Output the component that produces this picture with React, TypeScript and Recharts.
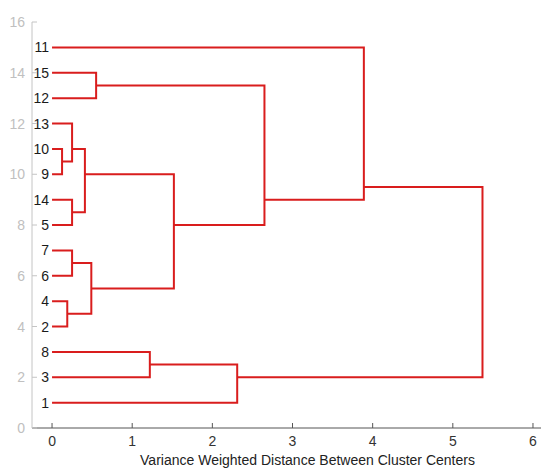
import React from 'react';
import { ComposedChart, Line, Scatter, XAxis, YAxis, Label } from 'recharts';

// leaf order along the y axis (position 1 at the bottom)
const leafLabels = ['1', '3', '8', '2', '4', '6', '7', '5', '14', '9', '10', '13', '12', '15', '11'];

// merges: nodes 1..15 are leaves (by label), new nodes are numbered 16, 17, ...
const mergeLeft = [9, 13, 14, 7, 4, 17, 19, 15, 8, 21, 1, 23, 11, 26];
const mergeRight = [10, 16, 5, 6, 2, 18, 20, 12, 3, 22, 24, 25, 27, 28];
const mergeHeight = [0.125, 0.25, 0.25, 0.25, 0.19, 0.41, 0.49, 0.55, 1.22, 1.52, 2.31, 2.65, 3.89, 5.37];

const xTicks = [0, 1, 2, 3, 4, 5, 6];
const yTicks = [0, 2, 4, 6, 8, 10, 12, 14, 16];
const xLabel = 'Variance Weighted Distance Between Cluster Centers';

const LINE = '#d91d1d';
const FONT = '"Liberation Sans", Arial, sans-serif';

const nLeaves = leafLabels.length;

// leaf positions in the tree, then each merged node sits at the mean of its leaves
const leafPos: Record<number, number> = {};
leafLabels.forEach((l, i) => { leafPos[Number(l)] = i + 1; });

const nodeLeaves: Record<number, number[]> = {};
const nodeHeight: Record<number, number> = {};
for (let i = 1; i <= nLeaves; i++) {
  nodeLeaves[i] = [leafPos[i]];
  nodeHeight[i] = 0;
}
mergeLeft.forEach((a, i) => {
  const id = nLeaves + 1 + i;
  nodeLeaves[id] = [...nodeLeaves[a], ...nodeLeaves[mergeRight[i]]];
  nodeHeight[id] = mergeHeight[i];
});
const nodeY = (id: number) => nodeLeaves[id].reduce((s, v) => s + v, 0) / nodeLeaves[id].length;

const links = mergeLeft.map((a, i) => {
  const b = mergeRight[i];
  const h = mergeHeight[i];
  return [
    { x: nodeHeight[a], y: nodeY(a) },
    { x: h, y: nodeY(a) },
    { x: h, y: nodeY(b) },
    { x: nodeHeight[b], y: nodeY(b) },
  ];
});

const leafData = leafLabels.map((name, i) => ({ x: 0, y: i + 1, name }));

const YTick = ({ x, y, payload }: any) => (
  <g>
    <line x1={x} x2={x + 5} y1={y} y2={y} stroke="#c4c4c4" />
    <text x={x - 7} y={y} textAnchor="end" dominantBaseline="central" fill="#c0c0c0" fontSize={14} fontFamily={FONT}>
      {payload.value}
    </text>
  </g>
);

const XTick = ({ x, y, payload }: any) => (
  <g>
    <line x1={x} x2={x} y1={y} y2={y - 5} stroke="#555555" />
    <text x={x} y={y + 13} textAnchor="middle" dominantBaseline="central" fill="#333333" fontSize={14} fontFamily={FONT}>
      {payload.value}
    </text>
  </g>
);

const LeafLabel = (props: any) => {
  const { cx, cy, payload } = props;
  return (
    <text x={cx - 3} y={cy} textAnchor="end" dominantBaseline="central" fill="#1a1a1a" fontSize={14} fontFamily={FONT}>
      {payload.name}
    </text>
  );
};

export default function App() {
  return (
    <div style={{ position: 'absolute', left: 0, top: 0, width: 541, height: 468, background: '#ffffff' }}>
      <ComposedChart width={541} height={468} margin={{ top: 22, right: 0, bottom: 0, left: 0 }}>
        <XAxis
          type="number"
          dataKey="x"
          domain={[-0.25, 6.1]}
          ticks={xTicks}
          allowDataOverflow
          height={40}
          tickSize={0}
          tickMargin={0}
          tick={<XTick />}
          stroke="#555555"
        >
          <Label
            content={({ viewBox }: any) => (
              <text
                x={viewBox.x + viewBox.width / 2 + 21}
                y={viewBox.y + 32}
                textAnchor="middle"
                dominantBaseline="central"
                fill="#222222"
                fontSize={14}
                fontFamily={FONT}
              >
                {xLabel}
              </text>
            )}
          />
        </XAxis>
        <YAxis
          type="number"
          dataKey="y"
          domain={[0, 16]}
          ticks={yTicks}
          width={32}
          tickSize={0}
          tickMargin={0}
          tick={<YTick />}
          stroke="#c4c4c4"
        />
        {links.map((pts, i) => (
          <Line
            key={i}
            data={pts}
            dataKey="y"
            type="linear"
            stroke={LINE}
            strokeWidth={2}
            dot={false}
            activeDot={false}
            isAnimationActive={false}
          />
        ))}
        <Scatter data={leafData} dataKey="y" shape={<LeafLabel />} isAnimationActive={false} />
      </ComposedChart>
    </div>
  );
}
